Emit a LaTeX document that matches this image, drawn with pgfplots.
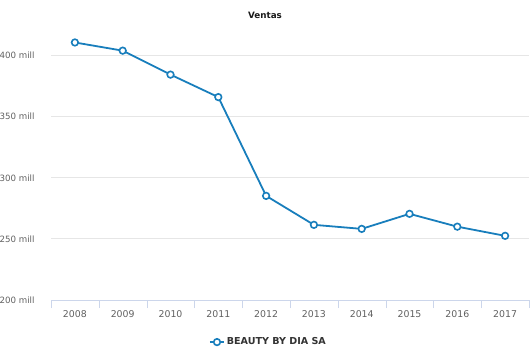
\documentclass[border=0pt]{standalone}
\usepackage{pgfplots}
\pgfplotsset{compat=1.18}
\usepackage{fontspec}
\setmainfont{DejaVu Sans}
\definecolor{serie}{RGB}{24,126,188}
\definecolor{gridc}{RGB}{230,230,230}
\definecolor{axc}{RGB}{204,214,235}
\definecolor{labc}{RGB}{96,96,96}
\begin{document}
\begin{tikzpicture}[x=1bp,y=1bp]
\path[use as bounding box] (0,0) rectangle (532,354);
\node[font=\fontsize{8.8}{10}\selectfont\bfseries, text=black!90] at (265,339) {Ventas};
\begin{axis}[
  at={(51bp,54bp)}, anchor=south west,
  scale only axis, width=478bp, height=275bp,
  xmin=-0.5, xmax=9.5, ymin=200, ymax=425,
  axis x line*=bottom,
  axis y line*=left,
  x axis line style={draw=axc},
  y axis line style={draw=none},
  xtick={0,...,9},
  xticklabels={2008,2009,2010,2011,2012,2013,2014,2015,2016,2017},
  minor xtick={-0.5,0.5,...,9.5},
  major x tick style={draw=none},
  minor x tick style={draw=axc},
  tick align=outside,
  minor tick length=8bp,
  ytick={200,250,300,350,400},
  yticklabel={\pgfmathprintnumber{\tick}\ mill},
  ytick style={draw=none},
  ymajorgrids, grid style={gridc, line width=0.8bp},
  tick label style={font=\fontsize{9.4}{10}\selectfont, text=labc},
  /pgf/number format/assume math mode=true,
  xticklabel style={yshift=-3bp},
  every y tick label/.append style={font=\fontsize{8.7}{10}\selectfont, inner xsep=0pt, xshift=-12bp},
  legend style={at={(0.455,-0.153)}, anchor=center, draw=none, fill=none,
    font=\fontsize{9.6}{10}\selectfont\bfseries, text=black!80, legend columns=1},
  legend image code/.code={
    \draw[#1, mark=none] (0bp,0bp) -- (14bp,0bp);
    \draw[#1, only marks] plot coordinates {(7bp,0bp)};
  },
  legend cell align=left,
  clip=false,
]
\addplot[color=serie, line width=1.8bp, mark=*, mark size=3.3bp,
  mark options={fill=white, line width=1.6bp, draw=serie}]
  coordinates {(0,410.7) (1,404) (2,384.4) (3,366) (4,285.2) (5,261.5) (6,258.2) (7,270.5) (8,260) (9,252.5)};
\addlegendentry{BEAUTY BY DIA SA}
\end{axis}
\end{tikzpicture}
\end{document}
